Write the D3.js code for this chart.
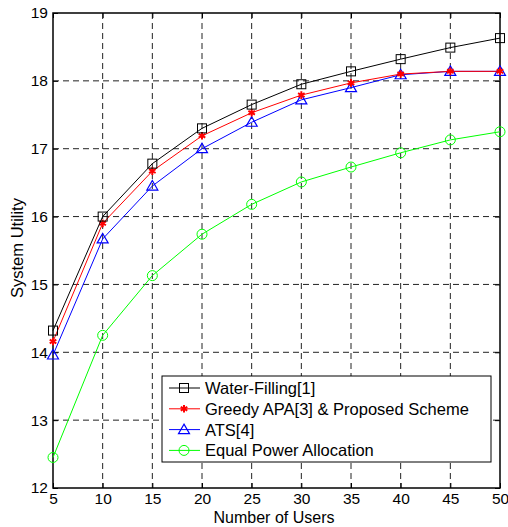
<!DOCTYPE html>
<html>
<head>
<meta charset="utf-8">
<script src="https://cdn.jsdelivr.net/npm/d3@7"></script>
<style>
  body { margin: 0; background: #fff; }
  svg { font-family: "Liberation Sans", Arial, sans-serif; }
</style>
</head>
<body>
<svg id="chart" width="508" height="527"></svg>
<script>
const users = [5, 10, 15, 20, 25, 30, 35, 40, 45, 50];
const waterFilling = [14.32, 16.0, 16.78, 17.3, 17.65, 17.95, 18.14, 18.32, 18.49, 18.63];
const greedyAPA = [14.16, 15.9, 16.67, 17.19, 17.53, 17.79, 17.97, 18.1, 18.14, 18.14];
const ats = [13.96, 15.67, 16.45, 17.0, 17.39, 17.72, 17.9, 18.09, 18.14, 18.14];
const equalPower = [12.45, 14.25, 15.13, 15.74, 16.18, 16.51, 16.73, 16.94, 17.13, 17.25];
const yTicks = [12, 13, 14, 15, 16, 17, 18, 19];
const seriesNames = ["Water-Filling[1]", "Greedy APA[3] & Proposed Scheme", "ATS[4]", "Equal Power Allocation"];

const series = [
  { name: seriesNames[0], values: waterFilling, color: "#000", marker: "square" },
  { name: seriesNames[1], values: greedyAPA, color: "#ff0000", marker: "star" },
  { name: seriesNames[2], values: ats, color: "#0000ff", marker: "triangle" },
  { name: seriesNames[3], values: equalPower, color: "#00ff00", marker: "circle" }
];

const svg = d3.select("#chart");
const margin = { left: 53, top: 13, right: 8, bottom: 39 };
const width = 508 - margin.left - margin.right,
  height = 527 - margin.top - margin.bottom;

const x = d3.scaleLinear().domain([5, 50]).range([0, width]);
const y = d3.scaleLinear().domain([12, 19]).range([height, 0]);

const g = svg.append("g")
  .attr("transform", "translate(" + margin.left + "," + margin.top + ")");

// grid
g.append("g").selectAll("line")
  .data(users.slice(1, -1))
  .enter().append("line")
  .attr("x1", d => x(d)).attr("x2", d => x(d))
  .attr("y1", 0).attr("y2", height)
  .attr("stroke", "#222").attr("stroke-dasharray", "6,4");

g.append("g").selectAll("line")
  .data(yTicks.slice(1, -1))
  .enter().append("line")
  .attr("x1", 0).attr("x2", width)
  .attr("y1", d => y(d)).attr("y2", d => y(d))
  .attr("stroke", "#222").attr("stroke-dasharray", "6,4");

// axes
const xAxis = d3.axisBottom(x).tickValues(users).tickSize(-5).tickPadding(5);
const yAxis = d3.axisLeft(y).tickValues(yTicks).tickSize(-5).tickPadding(5).tickFormat(d3.format("d"));
const xTop = d3.axisTop(x).tickValues(users).tickSize(-5).tickFormat("");
const yRight = d3.axisRight(y).tickValues(yTicks).tickSize(-5).tickFormat("");

function styleAxis(sel) {
  sel.attr("font-size", null).attr("font-family", null);
  sel.select(".domain").remove();
  sel.selectAll("line").attr("stroke", "#000");
  sel.selectAll("text").style("font-size", "15.5px").attr("fill", "#000");
}

g.append("g").attr("transform", "translate(0," + height + ")").call(xAxis).call(styleAxis);
g.append("g").call(yAxis).call(styleAxis);
g.append("g").call(xTop).call(styleAxis);
g.append("g").attr("transform", "translate(" + width + ",0)").call(yRight).call(styleAxis);

g.append("rect")
  .attr("width", width).attr("height", height)
  .attr("fill", "none").attr("stroke", "#000").attr("stroke-width", 1.5);

// markers
function drawMarker(sel, type, color) {
  if (type === "square") {
    sel.append("rect").attr("x", -4.5).attr("y", -4.5).attr("width", 9).attr("height", 9)
      .attr("fill", "none").attr("stroke", color);
  } else if (type === "star") {
    sel.append("path").attr("d", d3.symbol(d3.symbolAsterisk, 40)())
      .attr("fill", "none").attr("stroke", color).attr("stroke-width", 2);
  } else if (type === "triangle") {
    sel.append("path").attr("d", "M0,-5.5L5.5,4L-5.5,4Z")
      .attr("fill", "none").attr("stroke", color).attr("stroke-width", 1.2);
  } else {
    sel.append("circle").attr("r", 5).attr("fill", "none").attr("stroke", color);
  }
}

const line = d3.line().x((d, i) => x(users[i])).y(d => y(d));

series.slice().reverse().forEach(s => {
  g.append("path")
    .datum(s.values)
    .attr("d", line)
    .attr("fill", "none")
    .attr("stroke", s.color)
    .attr("stroke-width", 1);
  g.append("g").selectAll("g")
    .data(s.values)
    .enter().append("g")
    .attr("transform", (d, i) => "translate(" + x(users[i]) + "," + y(d) + ")")
    .each(function() { drawMarker(d3.select(this), s.marker, s.color); });
});

// legend
const legend = g.append("g").attr("transform", "translate(" + (162 - margin.left) + "," + (376 - margin.top) + ")");
legend.append("rect")
  .attr("width", 329).attr("height", 86)
  .attr("fill", "#fff").attr("stroke", "#000");

const legendItem = legend.selectAll(".legend-item")
  .data(series)
  .enter().append("g")
  .attr("class", "legend-item")
  .attr("transform", (d, i) => "translate(0," + (12 + i * 20.8) + ")");

legendItem.append("line")
  .attr("x1", 7).attr("x2", 38)
  .attr("stroke", d => d.color);
legendItem.append("g")
  .attr("transform", "translate(22,0)")
  .each(function(d) { drawMarker(d3.select(this), d.marker, d.color); });
legendItem.append("text")
  .attr("x", 43).attr("y", 6)
  .style("font-size", "16.5px")
  .text(d => d.name);

// labels
svg.append("text")
  .attr("x", 274).attr("y", 523)
  .attr("text-anchor", "middle").style("font-size", "16px")
  .text("Number of Users");

svg.append("text")
  .attr("transform", "translate(23,248) rotate(-90)")
  .attr("text-anchor", "middle").style("font-size", "16.5px")
  .text("System Utility");
</script>
</body>
</html>
